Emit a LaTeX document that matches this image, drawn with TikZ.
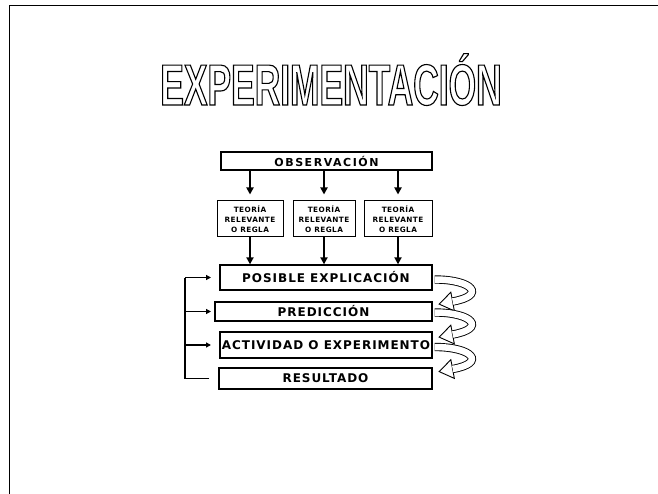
\documentclass[tikz,border=0pt]{standalone}
\usepackage{fontspec}
\usetikzlibrary{arrows.meta}
\setmainfont{DejaVu Sans}
\newfontfamily\titlefont[FakeStretch=0.61]{Liberation Sans Bold}
\newfontfamily\boxfont[LetterSpace=8]{DejaVu Sans Bold}
\newfontfamily\obsfont[LetterSpace=14]{DejaVu Sans Bold}
\newfontfamily\tfont[LetterSpace=6]{DejaVu Sans Bold}
\newcommand\outlinetext[1]{\special{pdf:code q 1 Tr 1.1 w}#1\special{pdf:code Q}}
\tikzset{
  box/.style={draw, line width=1.3pt, inner sep=0pt, font=\boxfont\fontsize{12}{12}\selectfont},
  tbox/.style={draw, line width=1pt, inner sep=0pt, align=center, font=\tfont\fontsize{7.3}{10}\selectfont},
  darr/.style={line width=2pt, -{Triangle[length=7pt,width=7pt]}},
  fb/.style={line width=1.3pt},
  fbarr/.style={line width=1.3pt, -{Triangle[length=5pt,width=5pt]}},
  band/.style={double=white, double distance=6.5pt, line width=0.9pt},
  head/.style={fill=white, draw=black, line width=0.9pt}
}
\newcommand\curlarrow[1]{%
  \begin{scope}[shift={#1}]
    \draw[band] (0,0) .. controls (38,0) and (52,16) .. (18,22);
    \filldraw[head] (19.7,31.4) -- (4.5,24.6) -- (16.2,12.7) -- cycle;
    \draw[white, line width=6.5pt] (18,22) -- (19.5,21.7);
  \end{scope}}
\begin{document}
\begin{tikzpicture}[x=1pt,y=-1pt]
\useasboundingbox (0,0) rectangle (658,494);
\fill[white] (0,0) rectangle (658,494);
\draw[line width=1pt] (9,494) -- (9,6) -- (658,6);
% title
\node[anchor=base, inner sep=0pt, font=\titlefont\fontsize{58}{58}\selectfont] (title) at (331,105)
  {\outlinetext{EXPERIMENTACIÓN}};
% boxes
\node[box, minimum width=211pt, minimum height=18pt, font=\obsfont\fontsize{11}{11}\selectfont] (obs) at (326.5,161) {OBSERVACIÓN};
\node[tbox, minimum width=66pt, minimum height=36pt] (t1) at (250,219) {TEORÍA\\RELEVANTE\\O REGLA};
\node[tbox, minimum width=62pt, minimum height=36pt] (t2) at (324,219) {TEORÍA\\RELEVANTE\\O REGLA};
\node[tbox, minimum width=68pt, minimum height=36pt] (t3) at (398,219) {TEORÍA\\RELEVANTE\\O REGLA};
\node[box, minimum width=212pt, minimum height=25pt] (pe) at (326,277.5) {POSIBLE EXPLICACIÓN};
\node[box, minimum width=217pt, minimum height=19pt] (pr) at (323.5,311.5) {PREDICCIÓN};
\node[box, minimum width=212pt, minimum height=26pt] (ac) at (326,345) {ACTIVIDAD O EXPERIMENTO};
\node[box, minimum width=213pt, minimum height=21pt] (re) at (325.5,378.5) {RESULTADO};
% arrows observation -> theories
\foreach \t in {t1,t2,t3}{
  \draw[darr, shorten >=6pt] (obs.south -| \t.north) -- (\t.north);
  \draw[darr] (\t.south) -- (\t.south |- pe.north);
}
% feedback line
\coordinate (vl) at (185,300);
\draw[fb] ([xshift=-9pt]re.west) -- (vl |- re.west) -- (vl |- pe.west);
\draw[fbarr] (vl |- pe.west) -- ++(26,0);
\draw[fbarr] (vl |- pr.west) -- ++(26,0);
\draw[fbarr] (vl |- ac.west) -- ++(26,0);
% curl arrows
\curlarrow{([xshift=2pt,yshift=-2pt]pe.east)}
\curlarrow{([xshift=2pt,yshift=-1pt]pr.east)}
\curlarrow{([xshift=2pt,yshift=-2pt]ac.east)}
\end{tikzpicture}
\end{document}
